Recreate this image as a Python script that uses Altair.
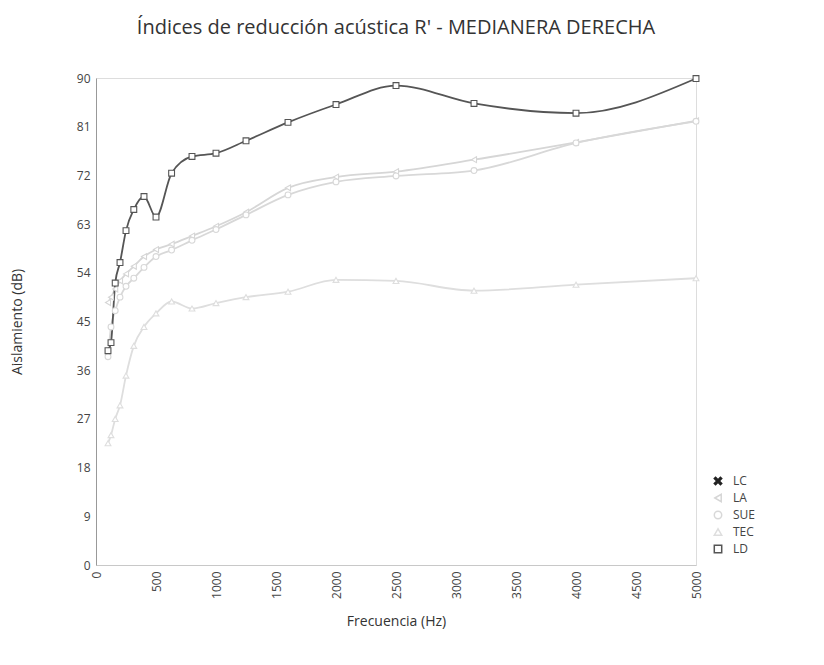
import altair as alt
import pandas as pd

freqs = [100, 125, 160, 200, 250, 315, 400, 500, 630, 800, 1000, 1250, 1600, 2000, 2500, 3150, 4000, 5000]

series_names = ["LC", "LA", "SUE", "TEC", "LD"]

la = [48.5, 49.5, 51.0, 52.5, 53.8, 55.2, 57.0, 58.3, 59.3, 60.8, 62.6, 65.2, 69.7, 71.7, 72.7, 74.9, 78.1, 82.1]
sue = [38.5, 44.0, 47.0, 49.5, 51.5, 53.0, 55.0, 57.0, 58.2, 60.0, 62.0, 64.7, 68.4, 70.8, 71.9, 72.9, 78.0, 82.0]
tec = [22.5, 24.0, 27.0, 29.5, 35.0, 40.5, 44.0, 46.5, 48.7, 47.4, 48.4, 49.5, 50.5, 52.7, 52.5, 50.7, 51.8, 53.0]
ld = [39.6, 41.1, 52.1, 55.9, 61.8, 65.7, 68.1, 64.3, 72.4, 75.5, 76.1, 78.4, 81.8, 85.1, 88.6, 85.3, 83.5, 89.9]

y_ticks = [0, 9, 18, 27, 36, 45, 54, 63, 72, 81, 90]
x_ticks = [0, 500, 1000, 1500, 2000, 2500, 3000, 3500, 4000, 4500, 5000]

rows = []
for name, vals in [("LA", la), ("SUE", sue), ("TEC", tec), ("LD", ld)]:
    for f, v in zip(freqs, vals):
        rows.append({"serie": name, "freq": f, "val": v})
df = pd.DataFrame(rows)

colors = ["#222222", "#d6d6d6", "#d8d8d8", "#dedede", "#555555"]
fill_colors = ["#222222", "#ffffff", "#ffffff", "#ffffff", "#ffffff"]
x_shape = "M-1,-0.65L-0.65,-1L0,-0.35L0.65,-1L1,-0.65L0.35,0L1,0.65L0.65,1L0,0.35L-0.65,1L-1,0.65L-0.35,0Z"
shapes = [x_shape, "triangle-left", "circle", "triangle-up", "square"]

FONT = "Open Sans"

leg = alt.Legend(title=None, orient="none", legendX=616, legendY=397, labelFont=FONT,
                 labelFontSize=12, labelColor="#444", rowPadding=3, labelOffset=9,
                 symbolSize=55, symbolStrokeWidth=1.5)

color_scale = alt.Scale(domain=series_names, range=colors)

x_enc = alt.X("freq:Q", scale=alt.Scale(domain=[0, 5000], nice=False),
              axis=alt.Axis(values=x_ticks, format="d", title="Frecuencia (Hz)", labelAngle=-90,
                            grid=False, ticks=False, domainColor="#c8c8c8",
                            labelFontSize=12, labelColor="#444", labelFont=FONT,
                            labelPadding=6, titleFont=FONT, titleFontSize=14,
                            titleFontWeight="normal", titleColor="#333", titlePadding=16))
y_enc = alt.Y("val:Q", scale=alt.Scale(domain=[0, 90], nice=False),
              axis=alt.Axis(values=y_ticks, title="Aislamiento (dB)", grid=False, ticks=False,
                            domainColor="#999", labelFontSize=12, labelColor="#444",
                            labelFont=FONT, labelPadding=6, titleFont=FONT, titleFontSize=14,
                            titleFontWeight="normal", titleColor="#333", titlePadding=52))

lines = alt.Chart(df).mark_line(interpolate="monotone", strokeWidth=1.8).encode(
    x=x_enc, y=y_enc,
    color=alt.Color("serie:N", scale=color_scale, legend=leg),
)

points = alt.Chart(df).mark_point(size=34, strokeWidth=1.1, opacity=1, filled=False).encode(
    x="freq:Q", y="val:Q",
    color=alt.Color("serie:N", scale=color_scale, legend=leg),
    fill=alt.Fill("serie:N", scale=alt.Scale(domain=series_names, range=fill_colors), legend=leg),
    shape=alt.Shape("serie:N", scale=alt.Scale(domain=series_names, range=shapes), legend=leg),
)

chart = alt.layer(lines, points).properties(
    width=600, height=487,
    title=alt.TitleParams("Índices de reducción acústica R' - MEDIANERA DERECHA",
                          font=FONT, fontSize=20, fontWeight="normal", color="#333",
                          anchor="middle", offset=34),
    autosize=alt.AutoSizeParams(type="none"),
    padding={"left": 88, "top": 70, "right": 120, "bottom": 90},
).configure_view(stroke=None).configure(background="white")

chart.save("out.html", embed_options={"renderer": "svg", "actions": False})
